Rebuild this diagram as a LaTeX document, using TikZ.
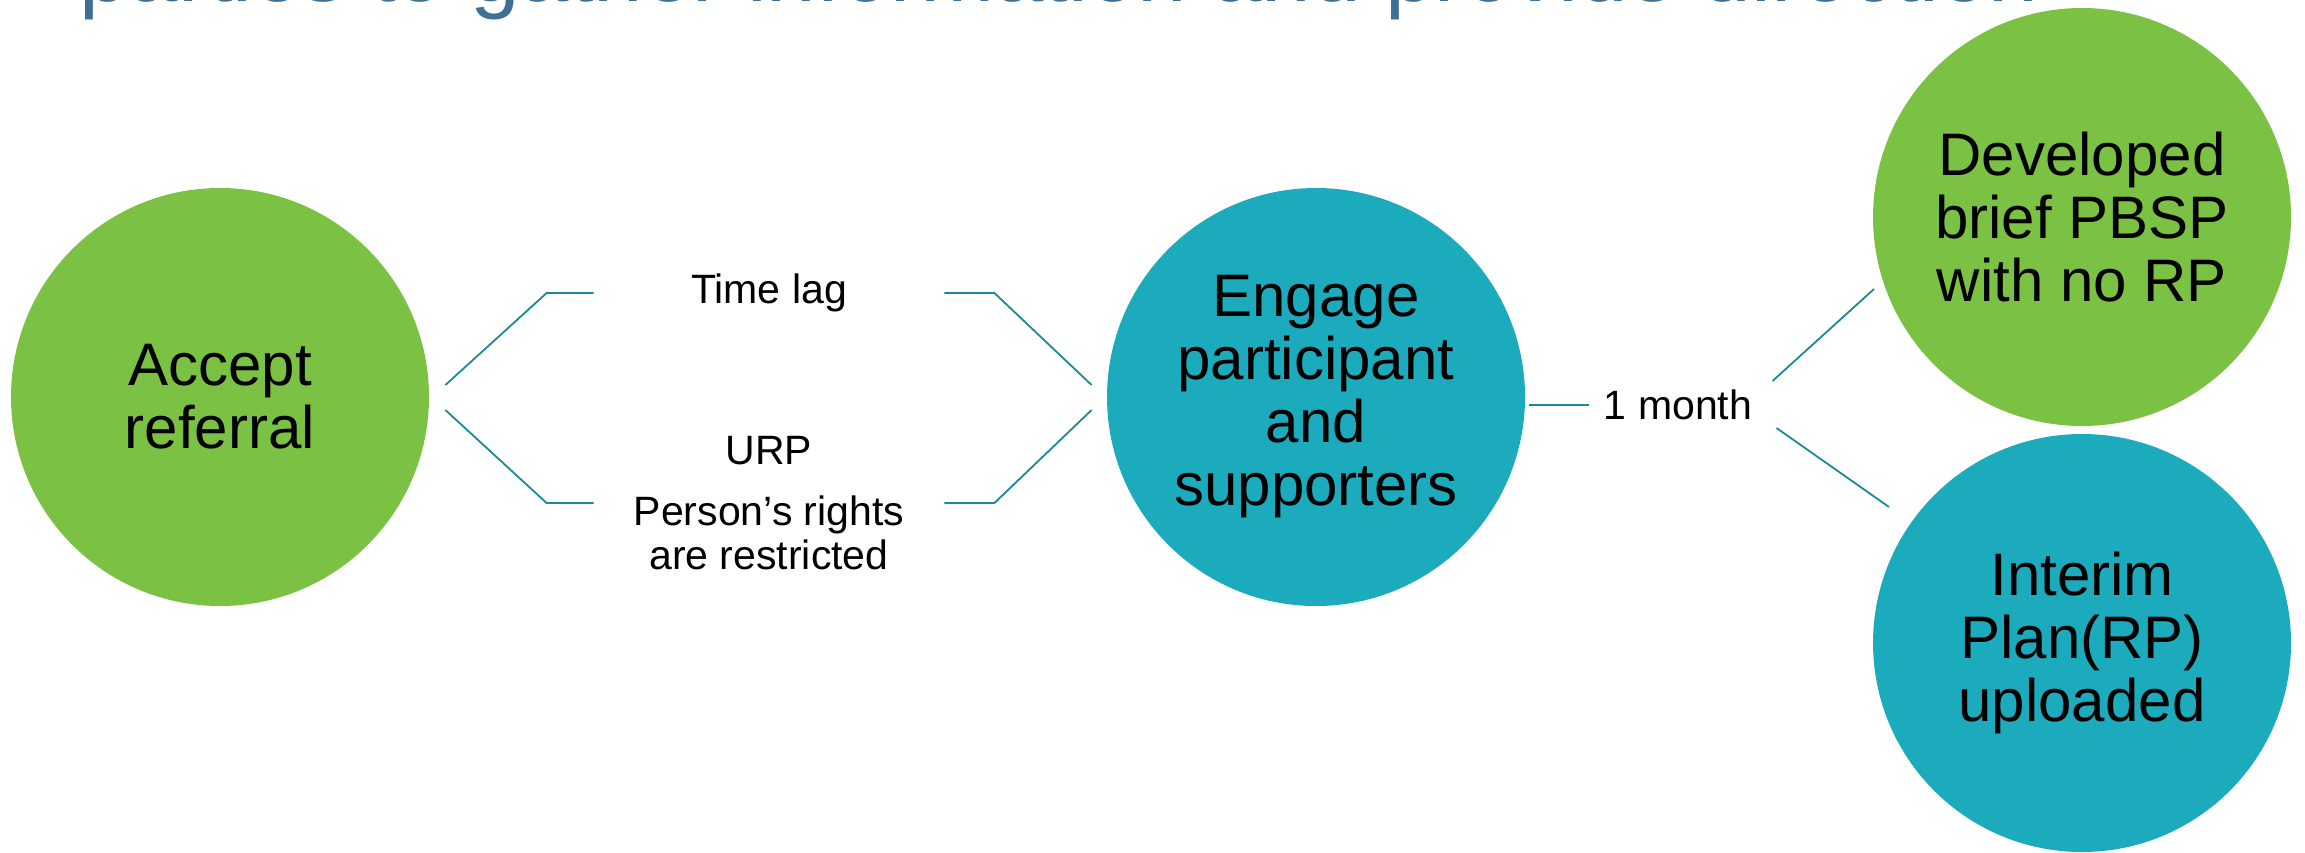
\documentclass[tikz,border=0pt]{standalone}
\usepackage{fontspec}
\setmainfont{Liberation Sans}
\usepackage{tikz}
\usetikzlibrary{positioning,calc}
\definecolor{leaf}{HTML}{7BC143}
\definecolor{lagoon}{HTML}{1CABBD}
\definecolor{wire}{HTML}{1A8A94}
\definecolor{heading}{HTML}{3E7095}
\tikzset{
  bubble/.style={circle, minimum size=209pt, inner sep=0pt, align=center,
                 font=\fontsize{30pt}{31.5pt}\selectfont},
  gbub/.style  ={bubble, fill=leaf},
  tbub/.style  ={bubble, fill=lagoon},
  note/.style  ={inner sep=0pt, minimum width=175pt, align=center,
                 font=\fontsize{20.5pt}{22pt}\selectfont},
  link/.style  ={draw=wire, line width=0.9pt},
}

\begin{document}
\begin{tikzpicture}[x=0.5pt, y=-0.5pt]
        \useasboundingbox (0,0) rectangle (2305,852);
        \clip (0,0) rectangle (2305,852);
        % heading line running off the top edge
        \node[anchor=base west, inner sep=0pt, text=heading,
              font=\fontsize{44.5pt}{50pt}\selectfont] (head) at (79,1.5)
              {parties to gather information and provide direction};
        % stages
        \node[gbub] (acc) at (220,397)  {Accept\\referral};
        \node[tbub] (eng) at (1316,397) {Engage\\participant\\and\\supporters};
        \node[gbub] (dev) at (2082,217) {Developed\\brief PBSP\\with no RP};
        \node[tbub] (int) at (2082,643) {Interim\\Plan(RP)\\uploaded};
        % labels on the links
        \node[note] (lag) at (769,293) {Time lag};
        \node[note] (urp) at (769,503) {URP\\[8.5pt]Person’s rights\\are restricted};
        \node[note, minimum width=0pt, inner xsep=7.5pt] (month) at (1678,405) {1 month};
        % brackets
        \draw[link] ($(acc.east)+(16,-12)$) -- ($(lag.west)+(-47,0)$) -- (lag.west);
        \draw[link] ($(acc.east)+(16,13)$) -- ($(urp.west)+(-47,0)$) -- (urp.west);
        \draw[link] (lag.east) -- ++(50,0) -- ($(eng.west)+(-15,-12)$);
        \draw[link] (urp.east) -- ++(50,0) -- ($(eng.west)+(-15,13)$);
        % split after the month
        \draw[link, shorten <=2pt] (eng.east |- month.west) -- (month.west);
        \draw[link] ($(month.east)+(5,-24)$) -- ($(dev.center)+(-208,72)$);
        \draw[link] ($(month.east)+(9,23)$) -- ($(int.center)+(-193,-136)$);
      \end{tikzpicture}
\end{document}
